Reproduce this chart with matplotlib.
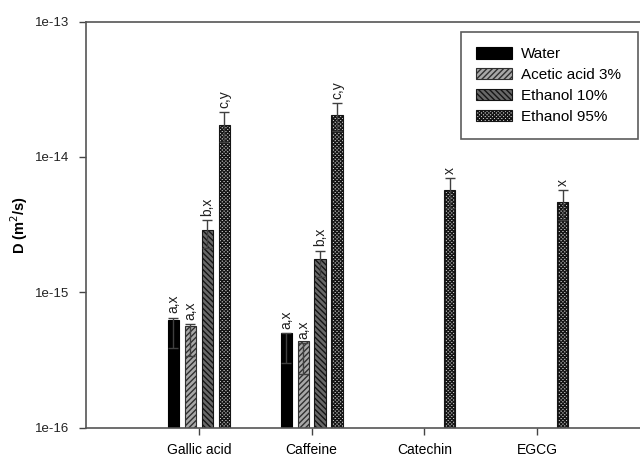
import matplotlib
matplotlib.use("Agg")
import matplotlib.pyplot as plt
import numpy as np

plt.rcParams.update({
    "font.family": ["Liberation Sans", "DejaVu Sans"],
    "font.size": 10,
    "hatch.linewidth": 1.0,
})

compounds = ["Gallic acid", "Caffeine", "Catechin", "EGCG"]
solvents = ["Water", "Acetic acid 3%", "Ethanol 10%", "Ethanol 95%"]

# D values (m2/s); None = not measured
water = [5.2e-16, 4.0e-16, None, None]
acetic = [4.6e-16, 3.35e-16, None, None]
eth10 = [2.77e-15, 1.66e-15, None, None]
eth95 = [1.71e-14, 2.03e-14, 5.57e-15, 4.54e-15]

water_err = [1.3e-16, 1.0e-16, None, None]
acetic_err = [1.2e-16, 0.85e-16, None, None]
eth10_err = [0.63e-15, 0.37e-15, None, None]
eth95_err = [0.43e-14, 0.47e-14, 1.38e-15, 1.12e-15]

water_lab = ["a,x", "a,x", None, None]
acetic_lab = ["a,x", "a,x", None, None]
eth10_lab = ["b,x", "b,x", None, None]
eth95_lab = ["c,y", "c,y", "x", "x"]

series = [
    (water, water_err, water_lab, dict(facecolor="black", edgecolor="black", hatch=None)),
    (acetic, acetic_err, acetic_lab, dict(facecolor="#a8a8a8", edgecolor="#303030", hatch="//////")),
    (eth10, eth10_err, eth10_lab, dict(facecolor="#686868", edgecolor="#151515", hatch="\\\\\\\\\\\\")),
    (eth95, eth95_err, eth95_lab, dict(facecolor="#d8d8d8", edgecolor="#151515", hatch="xxxxxxxxx")),
]

fig = plt.figure(figsize=(6.4, 4.57), dpi=100)
W, H = 640, 457
left, right, top, bottom = 86, 650, 21.7, 427.5
ax = fig.add_axes([left / W, 1 - bottom / H, (right - left) / W, (bottom - top) / H])

stride, width = 0.15, 0.10
handles = []
for k, (vals, errs, labs, style) in enumerate(series):
    xs, ys, es, ls = [], [], [], []
    for i, (v, e, l) in enumerate(zip(vals, errs, labs)):
        if v is None:
            continue
        xs.append(i + (k - 1.5) * stride)
        ys.append(v)
        es.append(e)
        ls.append(l)
    b = ax.bar(xs, ys, width=width, bottom=1e-16, linewidth=0.8, label=solvents[k], **style)
    ax.errorbar(xs, np.array(ys), yerr=es, fmt="none", ecolor="#404040", elinewidth=1.0,
                capsize=3.5, capthick=1.0)
    for x, y, e, l in zip(xs, ys, es, ls):
        ax.annotate(l, (x, y + e), xytext=(0, 3), textcoords="offset points",
                    rotation=90, ha="center", va="bottom", fontsize=10, color="#202020")
    handles.append(b)

ax.set_yscale("log")
ax.set_ylim(1e-16, 1e-13)
ax.set_xlim(-1, 4)
ax.set_xticks(range(len(compounds)))
ax.set_xticklabels(compounds, fontsize=10)
ax.set_yticks([1e-16, 1e-15, 1e-14, 1e-13])
ax.set_yticklabels(["1e-16", "1e-15", "1e-14", "1e-13"], fontsize=9.5, color="#222222")
ax.yaxis.set_minor_locator(matplotlib.ticker.NullLocator())
ax.tick_params(direction="out", length=5, width=1, color="#444444")
ax.tick_params(axis="x", pad=6)
ax.tick_params(axis="y", pad=7)
for s in ax.spines.values():
    s.set_color("#555555")
    s.set_linewidth(1.2)
ax.set_ylabel("D (m$^2$/s)", fontsize=10.5, fontweight="bold")
ax.yaxis.set_label_coords(-0.099, 0.5)

leg = ax.legend(handles=handles, loc="upper left",
                bbox_to_anchor=(461 / W, 1 - 135 / H, (638 - 461) / W, (135 - 32) / H),
                bbox_transform=fig.transFigure, mode="expand", frameon=True, fancybox=False,
                edgecolor="#333333", fontsize=11, handlelength=2.35, handleheight=0.75,
                labelspacing=0.45, borderaxespad=0, borderpad=1.0, handletextpad=0.6)
leg.get_frame().set_linewidth(1.2)

fig.savefig("out.png", dpi=100, facecolor="white")
